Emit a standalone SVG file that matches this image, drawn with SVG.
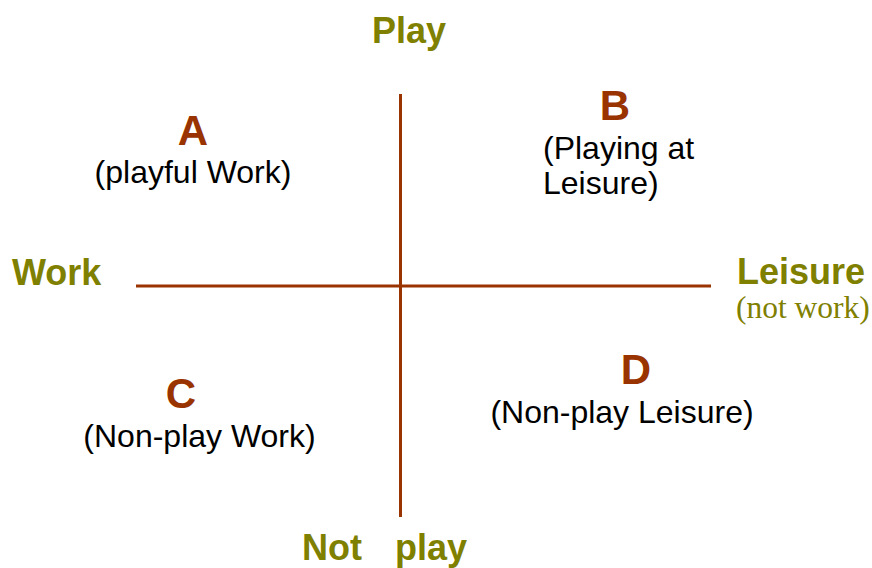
<svg xmlns="http://www.w3.org/2000/svg" width="872" height="568" viewBox="0 0 872 568">
<style>
.axis{font-family:"Liberation Sans",Arial,sans-serif;font-weight:bold;font-size:36px;fill:#808000}
.sub{font-family:"Liberation Serif","Times New Roman",serif;font-size:31.5px;fill:#808000}
.letter{font-family:"Liberation Sans",Arial,sans-serif;font-weight:bold;font-size:42px;fill:#993300;text-anchor:middle}
.desc{font-family:"Liberation Sans",Arial,sans-serif;font-size:32px;fill:#000}
.line{stroke:#993300;stroke-width:3;fill:none}
</style>
<rect width="872" height="568" fill="#fff"/>
<g id="connectors">
<line class="line" x1="136" y1="286" x2="711" y2="286"/>
<line class="line" x1="400.5" y1="94" x2="400.5" y2="517"/>
</g>
<g id="play"><text class="axis" x="372" y="43">Play</text></g>
<g id="notplay"><text class="axis" x="302" y="560">Not</text><text class="axis" x="395" y="560">play</text></g>
<g id="work"><text class="axis" x="12" y="285">Work</text></g>
<g id="leisure"><text class="axis" x="737" y="284">Leisure</text><text class="sub" x="736" y="318">(not work)</text></g>
<g id="A"><text class="letter" x="193" y="145">A</text><text class="desc" x="193" y="183" text-anchor="middle">(playful Work)</text></g>
<g id="B"><text class="letter" x="615" y="120">B</text><text class="desc" x="543" y="159">(Playing at</text><text class="desc" x="543" y="194">Leisure)</text></g>
<g id="C"><text class="letter" x="181" y="408">C</text><text class="desc" x="199.5" y="447" text-anchor="middle">(Non-play Work)</text></g>
<g id="D"><text class="letter" x="636" y="384">D</text><text class="desc" x="622" y="423" text-anchor="middle">(Non-play Leisure)</text></g>
</svg>
